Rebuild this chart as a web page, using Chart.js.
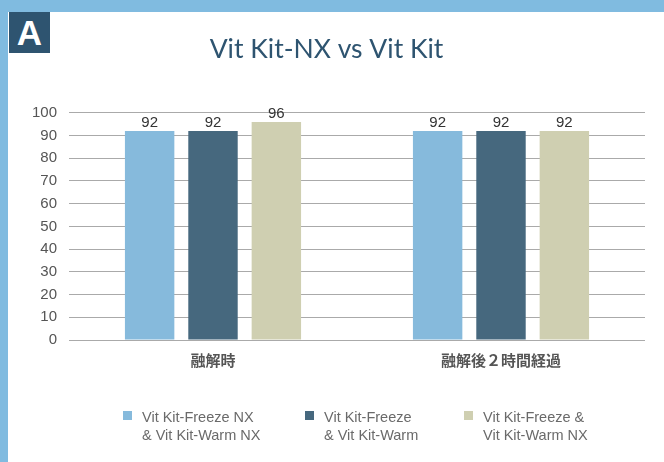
<!DOCTYPE html>
<html>
<head>
<meta charset="utf-8">
<script src="https://cdn.jsdelivr.net/npm/chart.js@4/dist/chart.umd.min.js"></script>
<style>
  body { margin: 0; background: #fff; }
  #frame { position: relative; width: 664px; height: 462px; overflow: hidden; background: #fff; }
  #topbar { position: absolute; left: 0; top: 0; width: 664px; height: 12px; background: #80bbe0; }
  #leftbar { position: absolute; left: 0; top: 0; width: 8px; height: 462px; background: #80bbe0; }
  #tag { position: absolute; left: 9px; top: 12px; width: 41px; height: 41px; background: #2e5470;
         color: #fff; font: bold 35px "Liberation Sans", Arial, sans-serif; text-align: center; line-height: 42px; }
  #wrap { position: absolute; left: 8px; top: 12px; width: 656px; height: 450px; }
</style>
</head>
<body>
<div id="frame">
  <div id="topbar"></div>
  <div id="leftbar"></div>
  <div id="wrap"><canvas id="myChart" width="656" height="450"></canvas></div>
  <div id="tag">A</div>
</div>
<script>
'use strict';

// categories and series
var categories = ['融解時', '融解後２時間経過'];
var seriesNames = [
  ['Vit Kit-Freeze NX', '& Vit Kit-Warm NX'],
  ['Vit Kit-Freeze', '& Vit Kit-Warm'],
  ['Vit Kit-Freeze &', 'Vit Kit-Warm NX']
];
var freezeWarmNX = [92, 92];
var freezeWarm = [92, 92];
var freezeNxWarmNX = [96, 92];
var seriesColors = ['#86badc', '#46687e', '#cfcfb1'];
var yTicks = [0, 10, 20, 30, 40, 50, 60, 70, 80, 90, 100];

// value labels above each bar
var barLabels = {
  id: 'barLabels',
  afterDatasetsDraw: function(chart) {
    var ctx = chart.ctx;
    ctx.save();
    ctx.font = '15px "Liberation Sans", Arial, sans-serif';
    ctx.fillStyle = '#333';
    ctx.textAlign = 'center';
    ctx.textBaseline = 'alphabetic';
    chart.data.datasets.forEach(function(ds, i) {
      chart.getDatasetMeta(i).data.forEach(function(bar, j) {
        ctx.fillText(ds.data[j], bar.x, bar.y - 4);
      });
    });
    ctx.restore();
  }
};

// legend with two-line labels, drawn under the axis
var twoLineLegend = {
  id: 'twoLineLegend',
  afterDraw: function(chart) {
    var ctx = chart.ctx;
    var xs = [115, 297, 456];
    var top = 399;
    ctx.save();
    ctx.font = '14.5px "Liberation Sans", Arial, sans-serif';
    ctx.textBaseline = 'middle';
    ctx.textAlign = 'left';
    chart.data.datasets.forEach(function(ds, i) {
      ctx.fillStyle = ds.backgroundColor;
      ctx.fillRect(xs[i], top, 9, 9);
      ctx.fillStyle = '#6a6a6a';
      ds.label.forEach(function(line, k) {
        ctx.fillText(line, xs[i] + 19, top + 7 + k * 17.5);
      });
    });
    ctx.restore();
  }
};

var myChart = document.getElementById('myChart').getContext('2d');
var datasets = [freezeWarmNX, freezeWarm, freezeNxWarmNX].map(function(values, i) {
  return {
    label: seriesNames[i],
    data: values,
    backgroundColor: seriesColors[i],
    borderWidth: 0,
    categoryPercentage: 0.66,
    barPercentage: 0.78
  };
});

var chart = new Chart(myChart, {
  type: 'bar',
  data: {
    labels: categories,
    datasets: datasets
  },
  options: {
    responsive: false,
    animation: false,
    devicePixelRatio: 1,
    layout: { padding: { top: 22, right: 19, bottom: 90, left: 0 } },
    plugins: {
      legend: { display: false },
      tooltip: { enabled: false },
      title: {
        display: true,
        text: 'Vit Kit-NX vs Vit Kit',
        color: '#2e5470',
        font: { family: 'Lato', size: 26.5, weight: 'normal' },
        padding: { top: 0, bottom: 47 }
      }
    },
    scales: {
      x: {
        grid: { display: false },
        border: { display: false },
        ticks: {
          color: '#555',
          padding: 3,
          font: { family: '"Noto Sans CJK JP"', size: 15, weight: 'bold' }
        }
      },
      y: {
        min: 0,
        max: 100,
        afterBuildTicks: function(scale) {
          scale.ticks = yTicks.map(function(v) { return { value: v }; });
        },
        afterFit: function(scale) { scale.width = 61; },
        grid: { color: '#aaa', lineWidth: 1, drawTicks: false },
        border: { display: false },
        ticks: {
          color: '#555',
          padding: 12,
          autoSkip: false,
          font: { family: '"Liberation Sans", Arial, sans-serif', size: 15 }
        }
      }
    }
  },
  plugins: [barLabels, twoLineLegend]
});
</script>
</body>
</html>
